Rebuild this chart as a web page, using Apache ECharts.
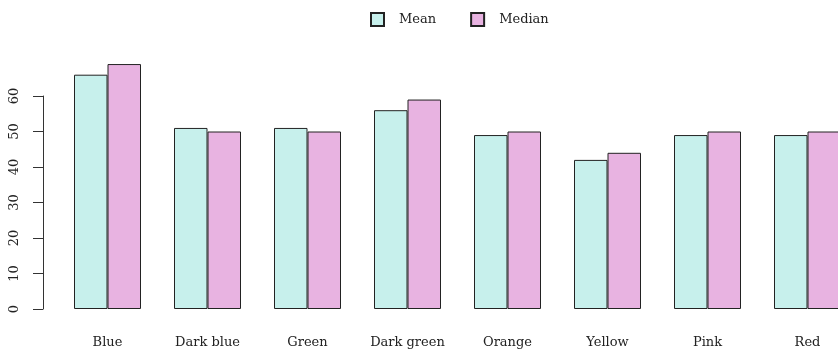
<!DOCTYPE html>
<html>
<head>
<meta charset="utf-8">
<script src="https://cdn.jsdelivr.net/npm/echarts@6/dist/echarts.min.js"></script>
<style>
  html, body { margin: 0; padding: 0; background: #fff; }
  #chart { width: 838px; height: 357px; }
</style>
</head>
<body>
<div id="chart"></div>
<script>
// Colour categories with the mean and median score of each
const categories = ['Blue', 'Dark blue', 'Green', 'Dark green', 'Orange', 'Yellow', 'Pink', 'Red'];
const meanValues = [66, 51, 51, 56, 49, 42, 49, 49];
const medianValues = [69, 50, 50, 59, 50, 44, 50, 50];
const yTicks = [0, 10, 20, 30, 40, 50, 60];

const FONT = 'DejaVu Serif';

const chart = echarts.init(document.getElementById('chart'), null, { renderer: 'canvas' });

chart.setOption({
  animation: false,
  backgroundColor: '#ffffff',
  textStyle: { fontFamily: FONT },
  legend: {
    top: 7,
    left: 365,
    itemWidth: 13,
    itemHeight: 13,
    itemGap: 34,
    icon: 'rect',
    textStyle: { fontFamily: FONT, fontSize: 13, color: '#222', padding: [0, 0, 0, 10] },
    data: ['Mean', 'Median']
  },
  grid: [
    // plotting region for the bars; it runs past the right edge of the canvas
    { left: 57.5, width: 800, top: 60.5, bottom: 48, outerBoundsMode: 'none' },
    // region carrying the visible value axis, spanning 0..60 only
    { left: 43, width: 700, top: 96, bottom: 48, outerBoundsMode: 'none' }
  ],
  xAxis: [
    {
      type: 'category',
      gridIndex: 0,
      data: categories,
      axisLine: { show: false },
      axisTick: { show: false },
      axisLabel: { fontFamily: FONT, fontSize: 13, color: '#222', margin: 27 }
    },
    { type: 'value', gridIndex: 1, show: false }
  ],
  yAxis: [
    {
      type: 'value',
      gridIndex: 0,
      min: 0,
      max: 70,
      show: false,
      splitLine: { show: false }
    },
    {
      type: 'value',
      gridIndex: 1,
      min: yTicks[0],
      max: yTicks[yTicks.length - 1],
      interval: 10,
      axisLine: { show: true, lineStyle: { color: '#333', width: 1 } },
      axisTick: { show: true, length: 10, lineStyle: { color: '#333', width: 1 } },
      axisLabel: { fontFamily: FONT, fontSize: 13, color: '#222', rotate: 90, margin: 22 },
      splitLine: { show: false }
    }
  ],
  series: [
    {
      name: 'Mean',
      type: 'bar',
      xAxisIndex: 0,
      yAxisIndex: 0,
      data: meanValues,
      barWidth: 33.5,
      barGap: '0%',
      itemStyle: { color: '#c7f0ec', borderColor: '#222', borderWidth: 1 }
    },
    {
      name: 'Median',
      type: 'bar',
      xAxisIndex: 0,
      yAxisIndex: 0,
      data: medianValues,
      barWidth: 33.5,
      barGap: '0%',
      itemStyle: { color: '#e8b3e1', borderColor: '#222', borderWidth: 1 }
    }
  ]
});
</script>
</body>
</html>
